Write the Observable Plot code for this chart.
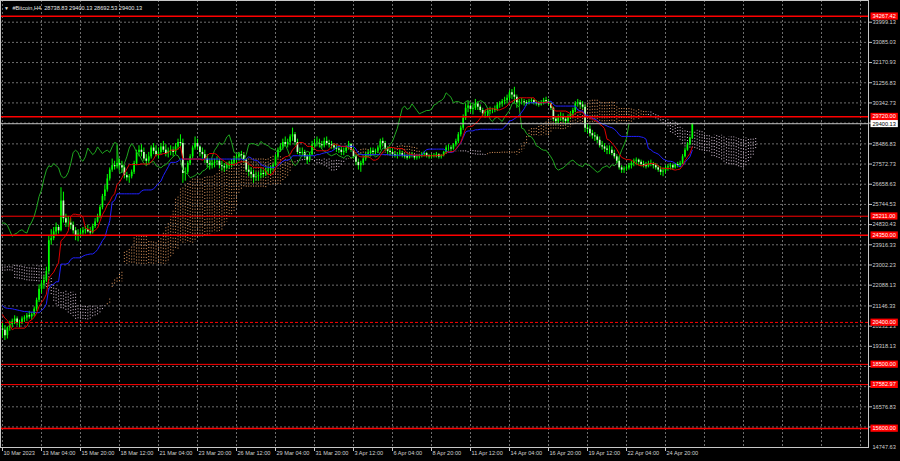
<!DOCTYPE html>
<html><head><meta charset="utf-8">
<script src="https://cdn.jsdelivr.net/npm/d3@7"></script>
<script src="https://cdn.jsdelivr.net/npm/@observablehq/plot@0.6"></script>
<style>
html,body{margin:0;padding:0;background:#000;}
#chart{width:900px;height:461px;overflow:hidden;}
</style></head><body><div id="chart"></div>
<script>
// ---- data (H4 bars, bar 0 = 10 Mar 2023 12:00) ----
const symbol = "#Bitcoin,H4";
// bars before the visible window (only used by the Ichimoku indicator)
const preHigh = [23300,23200,23100,23150,23200,23250, 23350,23500,23600,23550,23700,23650, 23800,23900,23700,23500,23400,23450,
  23350,23300,23250,23300,23500,23700, 23800,23750,23700,23650,23600,23700,23850, 23950, 22730,
  22500,22450,22400,22420,22500,22450, 22400,22380,22420,22450,22400,22380, 22450,22550,22650,22700,22600,22550,
  22600,22650,22600,22550,22500,22480, 22450,22400,22350,22300,22250,22200, 22200,22150,22100,22150,22100,22050,
  22000,21800,21600,21400,21000,20400, 20200,20100,20300];
const preLow = [23000,22900,22800,22850,22950,23000, 23050,23200,23300,23250,23350,23300, 23400,23500,23300,23150,23100,23150,
  23050,22980,23000,23050,23200,23350, 23450,23400,23350,23300,23300,23350,23450, 22800, 22100,
  22050,22100,22150,22200,22250,22200, 22200,22150,22200,22250,22200,22180, 22200,22250,22350,22400,22350,22300,
  22350,22400,22350,22300,22250,22200, 22150,22100,22050,22000,21980,21950, 21980,21950,21970,21990,21960,21950,
  21700,21500,21300,20900,20300,20000, 19900,19700,19800];
const firstOpen = 20100;
const high = [20350,20250,20200,
 20450,20550,20700,20650,20500,20650, 20700,20800,20900,20850,21100,21500, 22100,22300,22500,22900,24300,24600,
 24700,24900,24800,26500,26300,25300, 25200,25100,24950,24700,24600,24650, 24700,24750,24800,24700,24850,25100,
 25300,25700,26200,26600,27100,27400, 27800,27700,28400,27800,27700,27500, 27200,27100,27300,27700,28200,28400,
 28450,28300,28000,28100,28400,28500, 28400,28300,28500,28600,28450,28300, 28400,28350,28500,28700,28900,28700,
 27400,27700,28000,28400,28800,28700, 28400,28300,28200,28000,27800,27800, 27800,27900,27800,27700,27600,27650,
 27700,27750,27900,28000,28100,28150, 28050,27800,27500,27400,27300,27200, 27200,27350,27300,27400,27450,27500,
 27600,28000,28300,28500,28700,28800, 28700,28900,29200,29000,28700,28300, 28300,28200,28000,28100,28600,28700,
 28800,28700,28600,28750,28800,28650, 28600,28500,28450,28400,28350,28300, 28400,28600,28500,28300,28000,27800,
 27700,27900,28100,28200,28300,28300, 28250,28400,28700,28750,28600,28350, 28300,28250,28150,28100,28200,28150,
 28050,28000,28050,28100,28000,27950, 28000,28100,28150,28100,28000,28000, 28050,28100,28050,28000,28150,28400,
 28450,28400,28500,28700,29000,29300, 29800,30300,30400,30300,30250,30500, 30400,30250,30100,30000,30100,30150,
 30100,30200,30350,30400,30500,30600, 30700,30900,30950,31050,30700,30500, 30550,30500,30450,30500,30550,30500,
 30450,30400,30450,30550,30600,30500, 30350,30150,29700,29800,29900,29850, 29700,29800,29950,30100,30400,30500,
 30450,30400,30250,29400,29300,29100, 29000,28900,28800,28600,28500,28400, 28400,28350,28200,28000,27900,27500,
 27450,27500,27600,27700,27800,27850, 27800,27750,27700,27650,27700,27750, 27650,27600,27500,27450,27400,27500,
 27550,27600,27550,27600,27650,27700, 28000,28300,28550,28800,29400.13];
const low = [19700,19580,19650,
 20000,20150,20300,20250,20150,20300, 20400,20450,20550,20500,20650,20900, 21300,21700,21900,22200,22600,23900,
 24100,24300,24400,24500,24900,24700, 24700,24600,24400,24100,24050,24250, 24350,24400,24450,24350,24400,24650,
 24900,25100,25500,25900,26300,26800, 27200,27300,27350,27300,27150,26900, 26800,26700,26900,27100,27500,27900,
 27900,27700,27500,27600,27800,28000, 27900,27800,28000,28100,27900,27850, 27950,27900,28000,28200,28300,26700,
 26800,27100,27500,27800,28200,28200, 27900,27800,27600,27400,27300,27350, 27400,27500,27350,27250,27200,27300,
 27350,27400,27500,27600,27700,27800, 27600,27200,27000,26900,26700,26800, 26800,26900,26950,27000,27050,27100,
 27250,27450,27800,28100,28200,28350, 28300,28400,28600,28400,28000,27900, 27900,27800,27550,27650,27950,28300,
 28350,28300,28250,28300,28400,28300, 28250,28200,28100,28050,27950,27950, 28050,28200,28100,27800,27500,27300,
 27200,27500,27700,27850,27900,27950, 27950,28050,28200,28350,28150,28000, 27950,27900,27850,27800,27900,27850,
 27800,27750,27800,27850,27750,27750, 27800,27850,27900,27850,27800,27800, 27850,27850,27800,27800,27900,28050,
 28150,28150,28200,28350,28500,28800, 29100,29550,29900,29900,29800,30000, 30000,29900,29700,29650,29700,29800,
 29850,29900,29950,30100,30150,30250, 30300,30450,30500,30300,30100,30150, 30250,30200,30200,30250,30300,30250,
 30200,30150,30200,30250,30300,30200, 30000,29500,29350,29400,29500,29450, 29350,29400,29600,29750,29900,30150,
 30100,30050,29000,28950,28800,28700, 28600,28500,28300,28200,28100,28000, 28000,27950,27800,27600,27300,27150,
 27150,27250,27300,27350,27450,27500, 27500,27450,27400,27350,27400,27450, 27350,27300,27200,27050,27000,27150,
 27250,27300,27300,27350,27400,27400, 27550,27850,28150,28400,28692.53];
const close = [20050,19800,20150,
 20300,20450,20550,20350,20400,20550, 20600,20700,20650,20750,21000,21400, 21900,22150,22300,22700,24100,24200,
 24500,24700,24550,25900,25100,24900, 24900,24800,24550,24300,24400,24450, 24550,24600,24500,24450,24750,24950,
 25200,25600,26100,26400,26900,27300, 27500,27450,27600,27500,27400,27050, 26950,27000,27200,27600,28100,28200,
 28100,27800,27700,27900,28300,28150, 28000,28100,28350,28200,28050,28150, 28200,28100,28350,28550,28500,27150,
 27200,27600,27900,28300,28500,28350, 28100,28000,27800,27600,27500,27600, 27650,27700,27500,27450,27400,27500,
 27550,27650,27800,27900,28000,27950, 27750,27300,27200,27100,26950,27000, 27050,27150,27100,27250,27300,27400,
 27500,27900,28200,28350,28550,28450, 28550,28800,28900,28550,28100,28050, 28100,27900,27750,28000,28450,28500,
 28500,28450,28400,28600,28500,28450, 28400,28300,28250,28200,28100,28150, 28300,28450,28200,27900,27650,27500,
 27600,27800,28000,28050,28150,28100, 28150,28300,28600,28500,28250,28150, 28100,28000,27950,28000,28050,27950,
 27900,27850,27950,27950,27850,27900, 27950,28000,28050,27950,27900,27950, 27950,28000,27900,27950,28100,28300,
 28300,28250,28450,28600,28900,29200, 29650,30100,30200,30050,30100,30300, 30150,30000,29850,29900,29950,30000,
 30000,30050,30250,30300,30400,30450, 30550,30800,30700,30600,30350,30400, 30400,30350,30300,30400,30450,30350,
 30300,30250,30350,30450,30400,30300, 30100,29600,29500,29650,29700,29600, 29500,29700,29850,30000,30300,30350,
 30250,30150,29200,29150,28950,28850, 28800,28650,28400,28350,28250,28200, 28200,28050,27900,27700,27400,27300,
 27350,27400,27500,27600,27700,27750, 27650,27550,27500,27450,27600,27550, 27500,27400,27300,27200,27250,27400,
 27450,27500,27400,27550,27500,27600, 27900,28200,28450,28738.83,29400.13];

// horizontal levels (drawn as red lines with price tags)
const levelsThick = [34267.42, 29720.00, 24350.00, 15600.00];
const levelsThin = [25211.00, 18500.00, 17582.97];
const levelsDashed = [20400.00];
// price-axis grid values and the labels that stay visible
const yTickValues = [33999.13,33085.03,32170.93,31256.83,30342.73,29428.63,28486.83,27572.73,26658.63,25744.53,
  24830.43,23916.33,23002.23,22088.13,21146.33,20232.23,19318.13,18404.03,17489.93,16576.83,15662.73];
const yHiddenLabels = [29428.63, 18404.03, 17489.93, 15662.73];
const yBottomLabel = 14747.63;
// time-axis labels (every 16 bars)
const xTickLabels = ["10 Mar 2023","13 Mar 04:00","15 Mar 20:00","18 Mar 12:00","21 Mar 04:00","23 Mar 20:00",
  "26 Mar 12:00","29 Mar 04:00","31 Mar 20:00","3 Apr 12:00","6 Apr 04:00","8 Apr 20:00","11 Apr 12:00",
  "14 Apr 04:00","16 Apr 20:00","19 Apr 12:00","22 Apr 04:00","24 Apr 20:00"];
const barsPerLabel = 16;
const ichimoku = {tenkan: 9, kijun: 26, senkou: 52};

// ---- derived tables ----
const OFF = preHigh.length;
const allH = preHigh.concat(high), allL = preLow.concat(low);
const mid = (k, n) => (d3.max(allH.slice(k - n + 1 + OFF, k + 1 + OFF)) + d3.min(allL.slice(k - n + 1 + OFF, k + 1 + OFF))) / 2;
const bars = close.map((c, i) => ({i, o: i ? close[i - 1] : firstOpen, h: high[i], l: low[i], c}));
const tenkan = bars.map(d => ({i: d.i, v: mid(d.i, ichimoku.tenkan)}));
const kijun = bars.map(d => ({i: d.i, v: mid(d.i, ichimoku.kijun)}));
const chikou = close.slice(ichimoku.kijun).map((c, j) => ({i: j, v: c}));
const cloud = d3.range(-ichimoku.kijun, close.length).map(k => ({
  i: k + ichimoku.kijun,
  a: (mid(k, ichimoku.tenkan) + mid(k, ichimoku.kijun)) / 2,
  b: mid(k, ichimoku.senkou)
}));
const last = bars[bars.length - 1];
const gridX = d3.range(0, 353, barsPerLabel);
const xLabelData = xTickLabels.map((t, k) => ({t, i: k * barsPerLabel}));
const yLabelValues = yTickValues.filter(v => !yHiddenLabels.includes(v));
const levelsAll = [...levelsThick, ...levelsThin, ...levelsDashed];
const fmt = v => v.toFixed(2);

const xDomain = [-0.82, 355.28];
const yDomain = [14734, 34982];
const gridColor = "#8a8a8a";
const red = "#ff0000";

const chart = Plot.plot({
  width: 900, height: 461,
  marginTop: 0, marginRight: 32, marginBottom: 14, marginLeft: 0,
  style: {background: "#000", color: "#d0d0d0", fontFamily: "'Liberation Sans', Arial, sans-serif", fontSize: "5.6px", overflow: "visible"},
  x: {domain: xDomain, axis: null},
  y: {domain: yDomain, axis: null},
  marks: [
    Plot.ruleY(yTickValues, {stroke: gridColor, strokeWidth: 0.8, strokeDasharray: "2,2"}),
    Plot.ruleX(gridX, {stroke: gridColor, strokeWidth: 0.8, strokeDasharray: "2,2"}),
    Plot.ruleX(cloud, {x: "i", y1: "a", y2: "b", stroke: d => d.a >= d.b ? "#e0985e" : "#d8c4d8", strokeWidth: 1, strokeDasharray: "1,2"}),
    Plot.ruleX(bars, {x: "i", y1: "l", y2: "h", stroke: "#00ff00", strokeWidth: 1}),
    Plot.ruleX(bars, {x: "i", y1: "o", y2: "c", stroke: d => d.c >= d.o ? "#00ff00" : "#c8ffc0", strokeWidth: 1.7}),
    Plot.line(chikou, {x: "i", y: "v", stroke: "#1fa81f", strokeWidth: 1}),
    Plot.line(kijun, {x: "i", y: "v", stroke: "#2020ff", strokeWidth: 1}),
    Plot.line(tenkan, {x: "i", y: "v", stroke: "#e00000", strokeWidth: 1}),
    Plot.ruleY([last.c], {stroke: "#c0c0c0", strokeWidth: 1}),
    Plot.ruleY(levelsThick, {stroke: red, strokeWidth: 1.5}),
    Plot.ruleY(levelsThin, {stroke: red, strokeWidth: 1}),
    Plot.ruleY(levelsDashed, {stroke: red, strokeWidth: 1, strokeDasharray: "3,2"}),
    Plot.frame({stroke: "#c8c8c8", strokeWidth: 1}),
    // axis tick marks
    Plot.ruleY(yTickValues, {x1: xDomain[1], x2: xDomain[1], insetRight: -4, stroke: "#c8c8c8"}),
    Plot.ruleX(gridX.filter(i => i <= 272), {y1: yDomain[0], y2: yDomain[0], insetBottom: -4, stroke: "#c8c8c8"}),
    // axis labels
    Plot.text(yLabelValues, {x: xDomain[1], y: d => d, text: fmt, dx: 4, textAnchor: "start", fill: "#d0d0d0"}),
    Plot.text([yBottomLabel], {x: xDomain[1], y: d => d, text: fmt, dx: 4, textAnchor: "start", fill: "#d0d0d0"}),
    Plot.text(xLabelData, {x: "i", text: "t", frameAnchor: "bottom", dy: 7.5, dx: 1, textAnchor: "start", fill: "#d0d0d0"}),
    // price tags (boxes added below)
    Plot.text([last.c], {x: xDomain[1], y: d => d, text: fmt, dx: 4, textAnchor: "start", fill: "#000"}),
    Plot.text(levelsAll, {x: xDomain[1], y: d => d, text: fmt, dx: 4, textAnchor: "start", fill: "#fff"}),
    // header
    Plot.text([`${symbol}  ${fmt(last.o)} ${fmt(last.h)} ${fmt(last.l)} ${fmt(last.c)}`], {frameAnchor: "top-left", dx: 12, dy: 6, textAnchor: "start", fill: "#e8e8e8"}),
    Plot.text(["▼"], {frameAnchor: "top-left", dx: 3.5, dy: 6, textAnchor: "start", fill: "#e8e8e8", fontSize: 5})
  ]
});
document.getElementById("chart").append(chart);

// boxes behind the price tags, sized from the rendered text
const tagColor = new Map(levelsAll.map(v => [fmt(v), red]));
tagColor.set(fmt(last.c), "#ffffff");
chart.querySelectorAll("text").forEach(t => {
  const color = tagColor.get(t.textContent);
  const fill = t.getAttribute("fill") || (t.parentNode && t.parentNode.getAttribute("fill"));
  if (!color) return;
  if (color === red && fill !== "#fff") return;
  if (color !== red && fill !== "#000") return;
  const b = t.getBBox();
  const r = document.createElementNS("http://www.w3.org/2000/svg", "rect");
  r.setAttribute("x", b.x - 2);
  r.setAttribute("y", b.y - 0.6);
  r.setAttribute("width", b.width + 4);
  r.setAttribute("height", b.height + 1.2);
  r.setAttribute("fill", color);
  const tr = t.getAttribute("transform");
  if (tr) r.setAttribute("transform", tr);
  t.parentNode.insertBefore(r, t);
});
</script>
</body></html>
